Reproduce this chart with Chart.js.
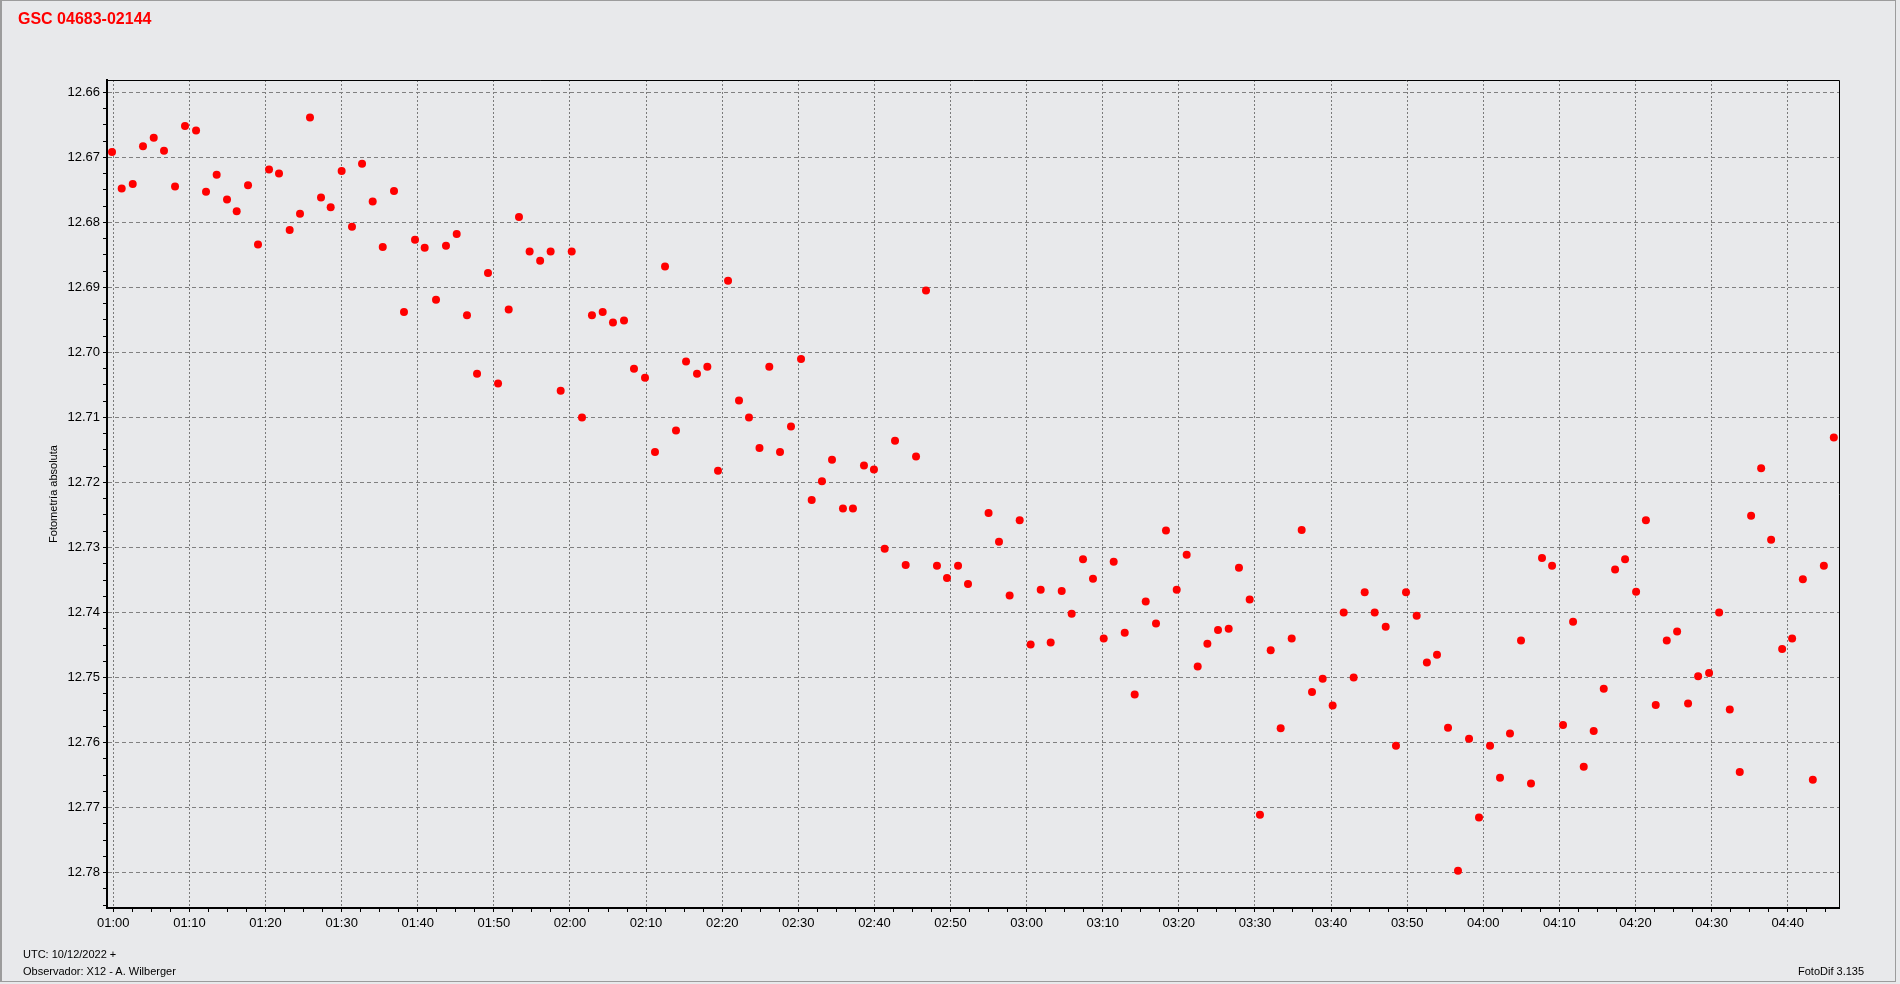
<!DOCTYPE html>
<html lang="es">
<head>
<meta charset="utf-8">
<title>GSC 04683-02144 - FotoDif</title>
<script src="https://cdn.jsdelivr.net/npm/chart.js@4.4.0/dist/chart.umd.min.js"></script>
<style>
    html, body {
        margin: 0;
        padding: 0;
        background: #e8e9eb;
    }
    body {
        position: relative;
        width: 1900px;
        height: 984px;
        overflow: hidden;
        font-family: "Liberation Sans", Arial, sans-serif;
    }
    .frame {
        position: absolute;
        left: 0;
        top: 0;
        width: 1896px;
        height: 982px;
        box-sizing: border-box;
        border: 1px solid #9c9c9c;
        border-left-width: 2px;
    }
    #lightCurve {
        position: absolute;
        left: 0;
        top: 0;
    }
    .label {
        position: absolute;
        white-space: nowrap;
        color: #000;
        font-size: 11px;
        line-height: 11px;
    }
    .star-name {
        left: 18px;
        top: 11px;
        color: #ff0000;
        font-size: 16px;
        font-weight: bold;
        line-height: 16px;
    }
</style>
</head>
<body>
<div class="frame"></div>
<canvas id="lightCurve" width="1900" height="984"></canvas>
<div class="label star-name">GSC 04683-02144</div>
<div class="label" style="left:23px; top:949px;">UTC: 10/12/2022 +</div>
<div class="label" style="left:23px; top:966px;">Observador: X12 - A. Wilberger</div>
<div class="label" style="left:1798px; top:966px;">FotoDif 3.135</div>

<script>
// Observation times (minutes after 00:00 UTC)
const utcMinutes = [
    59.83, 61.10, 62.55, 63.90, 65.31, 66.66, 68.11, 69.42, 70.87, 72.18,
    73.58, 74.94, 76.21, 77.70, 79.01, 80.46, 81.77, 83.17, 84.53, 85.84,
    87.29, 88.56, 90.00, 91.36, 92.68, 94.08, 95.40, 96.88, 98.19, 99.64,
    100.91, 102.40, 103.71, 105.12, 106.47, 107.79, 109.23, 110.55, 111.95, 113.30,
    114.70, 116.08, 117.46, 118.78, 120.23, 121.58, 122.89, 124.30, 125.65, 127.10,
    128.41, 129.86, 131.17, 132.49, 133.93, 135.25, 136.69, 138.05, 139.45, 140.77,
    142.21, 143.52, 144.90, 146.19, 147.60, 149.04, 150.36, 151.76, 153.11, 154.43,
    155.87, 157.18, 158.63, 159.94, 161.35, 162.71, 164.11, 165.47, 166.78, 168.22,
    169.54, 170.99, 172.30, 175.00, 176.37, 177.77, 179.09, 180.53, 181.85, 183.16,
    184.61, 185.92, 187.41, 188.72, 190.13, 191.44, 192.89, 194.20, 195.65, 197.00,
    198.31, 199.72, 201.03, 202.48, 203.75, 205.15, 206.55, 207.90, 209.31, 210.66,
    212.07, 213.38, 214.83, 216.14, 217.50, 218.90, 220.21, 221.66, 222.97, 224.42,
    225.73, 227.18, 228.53, 229.85, 231.25, 232.59, 233.92, 235.37, 236.68, 238.13,
    239.44, 240.89, 242.20, 243.51, 244.96, 246.27, 247.72, 249.04, 250.48, 251.80,
    253.20, 254.51, 255.83, 257.32, 258.63, 260.08, 261.37, 262.66, 264.11, 265.47,
    266.91, 268.23, 269.67, 270.99, 272.39, 273.70, 275.19, 276.51, 277.82, 279.27,
    280.58, 281.99, 283.30, 284.75, 286.06
];

// Absolute photometry (magnitudes)
const magnitudes = [
    12.6692, 12.6748, 12.6741, 12.6683, 12.6670, 12.6690, 12.6745, 12.6652, 12.6659, 12.6753,
    12.6727, 12.6765, 12.6783, 12.6743, 12.6834, 12.6719, 12.6725, 12.6812, 12.6787, 12.6639,
    12.6762, 12.6777, 12.6721, 12.6807, 12.6710, 12.6768, 12.6838, 12.6752, 12.6938, 12.6827,
    12.6839, 12.6919, 12.6836, 12.6818, 12.6943, 12.7033, 12.6878, 12.7048, 12.6934, 12.6792,
    12.6845, 12.6859, 12.6845, 12.7059, 12.6845, 12.7100, 12.6943, 12.6938, 12.6954, 12.6951,
    12.7025, 12.7039, 12.7153, 12.6868, 12.7120, 12.7014, 12.7033, 12.7022, 12.7182, 12.6890,
    12.7074, 12.7100, 12.7147, 12.7022, 12.7153, 12.7114, 12.7010, 12.7227, 12.7198, 12.7165,
    12.7240, 12.7240, 12.7174, 12.7180, 12.7302, 12.7136, 12.7327, 12.7160, 12.6905, 12.7328,
    12.7347, 12.7328, 12.7356, 12.7247, 12.7291, 12.7374, 12.7258, 12.7449, 12.7365, 12.7446,
    12.7367, 12.7402, 12.7318, 12.7348, 12.7440, 12.7322, 12.7431, 12.7526, 12.7383, 12.7417,
    12.7274, 12.7365, 12.7311, 12.7483, 12.7448, 12.7427, 12.7425, 12.7331, 12.7380, 12.7711,
    12.7458, 12.7578, 12.7440, 12.7273, 12.7522, 12.7502, 12.7543, 12.7400, 12.7500, 12.7369,
    12.7400, 12.7422, 12.7605, 12.7369, 12.7405, 12.7477, 12.7465, 12.7577, 12.7797, 12.7594,
    12.7715, 12.7605, 12.7654, 12.7586, 12.7443, 12.7663, 12.7316, 12.7328, 12.7573, 12.7414,
    12.7637, 12.7582, 12.7517, 12.7334, 12.7318, 12.7368, 12.7258, 12.7542, 12.7443, 12.7429,
    12.7540, 12.7498, 12.7493, 12.7400, 12.7549, 12.7645, 12.7251, 12.7178, 12.7288, 12.7456,
    12.7440, 12.7349, 12.7657, 12.7328, 12.7131
];

// Axis labels
const timeTickLabels = [
    '01:00', '01:10', '01:20', '01:30', '01:40', '01:50', '02:00', '02:10', '02:20', '02:30',
    '02:40', '02:50', '03:00', '03:10', '03:20', '03:30', '03:40', '03:50', '04:00', '04:10',
    '04:20', '04:30', '04:40'
];
const magTickLabels = [
    '12.66', '12.67', '12.68', '12.69', '12.70', '12.71', '12.72',
    '12.73', '12.74', '12.75', '12.76', '12.77', '12.78'
];

const TIME_MIN = 59.17;
const TIME_MAX = 286.74;
const MAG_MIN = 12.65812;
const MAG_MAX = 12.78543;

document.addEventListener('DOMContentLoaded', () => {
    drawLightCurve();
});

// Labelled tick every 10 min / 0.01 mag, small ticks in between
function timeLabel(value) {
    const idx = Math.round((value - 60) / 10);
    if (Math.abs(value - (60 + idx * 10)) > 0.01) return '';
    return timeTickLabels[idx] || '';
}

function magLabel(value) {
    const idx = Math.round((value - 12.66) * 100);
    if (Math.abs(value - (12.66 + idx / 100)) > 0.0002) return '';
    return magTickLabels[idx] || '';
}

// Thin frame on top and right of the plot
const plotFrame = {
    id: 'plotFrame',
    afterDraw(chart) {
        const { ctx, chartArea } = chart;
        ctx.save();
        ctx.strokeStyle = '#000';
        ctx.lineWidth = 1;
        ctx.beginPath();
        ctx.moveTo(chartArea.left, chartArea.top + 0.5);
        ctx.lineTo(chartArea.right + 0.5, chartArea.top + 0.5);
        ctx.lineTo(chartArea.right + 0.5, chartArea.bottom);
        ctx.stroke();
        ctx.restore();
    }
};

function drawLightCurve() {
    const ctx = document.getElementById('lightCurve').getContext('2d');
    const points = utcMinutes.map((t, i) => ({ x: t, y: magnitudes[i] }));
    const tickFont = { family: '"Liberation Sans", Arial, sans-serif', size: 13 };

    new Chart(ctx, {
        type: 'scatter',
        data: {
            datasets: [{
                label: 'GSC 04683-02144',
                data: points,
                backgroundColor: '#ff0000',
                borderWidth: 0,
                pointRadius: 4,
                pointHoverRadius: 4
            }]
        },
        options: {
            responsive: false,
            animation: false,
            devicePixelRatio: 1,
            layout: {
                padding: { top: 80, right: 61, bottom: 0, left: 0 }
            },
            plugins: {
                legend: { display: false },
                tooltip: { enabled: false }
            },
            scales: {
                x: {
                    type: 'linear',
                    position: 'bottom',
                    min: TIME_MIN,
                    max: TIME_MAX,
                    afterFit: scale => { scale.height = 76; },
                    ticks: {
                        stepSize: 2.5,
                        autoSkip: false,
                        includeBounds: false,
                        maxRotation: 0,
                        padding: 4,
                        color: '#000',
                        font: tickFont,
                        callback: value => timeLabel(value)
                    },
                    grid: {
                        color: c => (c.tick && timeLabel(c.tick.value)) ? '#7a7a7a' : 'rgba(0,0,0,0)',
                        lineWidth: 1,
                        tickColor: '#000',
                        tickLength: 4,
                        tickBorderDash: []
                    },
                    border: {
                        display: true,
                        color: '#000',
                        width: 2,
                        dash: [2, 2]
                    }
                },
                y: {
                    type: 'linear',
                    position: 'left',
                    reverse: true,
                    min: MAG_MIN,
                    max: MAG_MAX,
                    afterFit: scale => { scale.width = 107; },
                    title: {
                        display: true,
                        text: 'Fotometría absoluta',
                        color: '#000',
                        font: { family: '"Liberation Sans", Arial, sans-serif', size: 11 },
                        padding: { top: 47, bottom: 0 }
                    },
                    ticks: {
                        stepSize: 0.0025,
                        autoSkip: false,
                        includeBounds: false,
                        padding: 3,
                        color: '#000',
                        font: tickFont,
                        callback: value => magLabel(value)
                    },
                    grid: {
                        color: c => (c.tick && magLabel(c.tick.value)) ? '#808080' : 'rgba(0,0,0,0)',
                        lineWidth: 1,
                        tickColor: '#000',
                        tickLength: 4,
                        tickBorderDash: []
                    },
                    border: {
                        display: true,
                        color: '#000',
                        width: 2,
                        dash: [4, 3]
                    }
                }
            }
        },
        plugins: [plotFrame]
    });
}
</script>
</body>
</html>
